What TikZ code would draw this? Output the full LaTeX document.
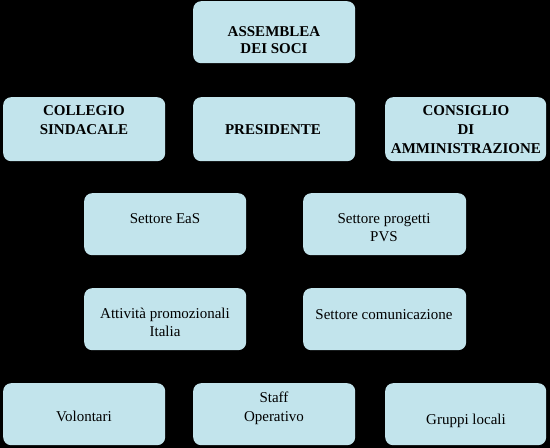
\documentclass[tikz,border=0pt]{standalone}
\usepackage{fontspec}
\setmainfont{Liberation Serif}
\definecolor{boxfill}{RGB}{194,228,236}
\begin{document}
\begin{tikzpicture}[x=1pt,y=-1pt,
  box/.style={draw=none,fill=boxfill,rounded corners=8pt,inner sep=0pt,anchor=north west},
  bl/.style={anchor=base,inner sep=0pt,font=\fontsize{15}{18}\selectfont\bfseries},
  rl/.style={anchor=base,inner sep=0pt,font=\fontsize{15}{18}\selectfont}]
\fill[black] (0,0) rectangle (550,448);
\useasboundingbox (0,0) rectangle (550,448);
% boxes
\node[box,minimum width=162pt,minimum height=62pt] (ass) at (193,1) {};
\node[box,minimum width=162pt,minimum height=64pt] (col) at (3,97) {};
\node[box,minimum width=162pt,minimum height=64pt] (pre) at (193,97) {};
\node[box,minimum width=161pt,minimum height=64pt] (con) at (385,97) {};
\node[box,minimum width=162pt,minimum height=62pt] (eas) at (84,193) {};
\node[box,minimum width=163pt,minimum height=62pt] (pvs) at (303,193) {};
\node[box,minimum width=162pt,minimum height=62pt] (att) at (84,288) {};
\node[box,minimum width=163pt,minimum height=62pt] (com) at (303,288) {};
\node[box,minimum width=162pt,minimum height=62pt] (vol) at (3,383) {};
\node[box,minimum width=162pt,minimum height=62pt] (sta) at (193,383) {};
\node[box,minimum width=161pt,minimum height=62pt] (gru) at (385,383) {};
% labels
\node[bl] (ass1) at (274,36) {ASSEMBLEA};
\node[bl] (ass2) at (274,53) {DEI SOCI};
\node[bl] (col1) at (84,115) {COLLEGIO};
\node[bl] (col2) at (84,134) {SINDACALE};
\node[bl] (pre1) at (273,134) {PRESIDENTE};
\node[bl] (con1) at (466,115) {CONSIGLIO};
\node[bl] (con2) at (466,134) {DI};
\node[bl] (con3) at (466,153) {AMMINISTRAZIONE};
\node[rl] (eas1) at (165,223) {Settore EaS};
\node[rl] (pvs1) at (384,223) {Settore progetti};
\node[rl] (pvs2) at (384,241) {PVS};
\node[rl] (att1) at (165,318) {Attività promozionali};
\node[rl] (att2) at (165,336) {Italia};
\node[rl] (com1) at (384,319) {Settore comunicazione};
\node[rl] (vol1) at (84,421) {Volontari};
\node[rl] (sta1) at (274,402) {Staff};
\node[rl] (sta2) at (274,421) {Operativo};
\node[rl] (gru1) at (466,424) {Gruppi locali};
\end{tikzpicture}
\end{document}
